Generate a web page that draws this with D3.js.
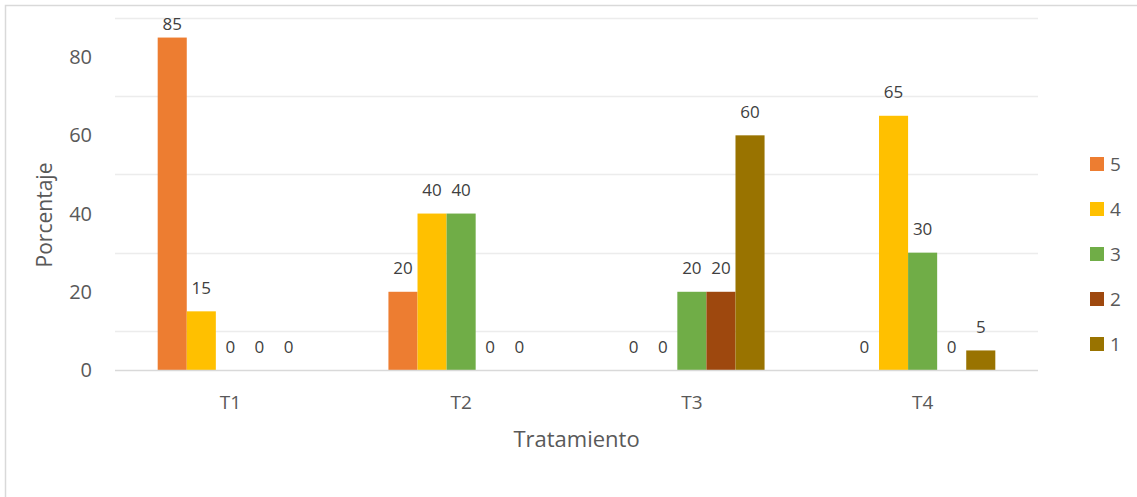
<!DOCTYPE html>
<html><head><meta charset="utf-8">
<script src="https://cdn.jsdelivr.net/npm/d3@7"></script>
<style>html,body{margin:0;padding:0;background:#fff;}svg{display:block;}</style>
</head><body>
<svg id="chart" width="1137" height="497"></svg>
<script>
const categories = ["T1", "T2", "T3", "T4"];
const seriesNames = ["5", "4", "3", "2", "1"];
const s5 = [85, 20, 0, 0];
const s4 = [15, 40, 0, 65];
const s3 = [0, 40, 20, 30];
const s2 = [0, 0, 20, 0];
const s1 = [0, 0, 60, 5];
const seriesValues = [s5, s4, s3, s2, s1];
const colors = ["#ED7D31", "#FFC000", "#70AD47", "#9E480E", "#997300"];
const yTickLabels = [0, 20, 40, 60, 80];
const gridValues = [10, 30, 50, 70, 90];
const xTitle = "Tratamiento";
const yTitle = "Porcentaje";

const font = "'Open Sans', 'Noto Sans', sans-serif";
const svg = d3.select("#chart");
const plot = {left: 115, right: 1038, top: 18, bottom: 370};

// chart border (only top/left visible in reference)
svg.append("rect").attr("x", 5.5).attr("y", 5.5).attr("width", 1200).attr("height", 600)
  .attr("fill", "none").attr("stroke", "#d9d9d9").attr("stroke-width", 1.5);

const y = d3.scaleLinear().domain([0, 90]).range([plot.bottom, plot.top]);
const x0 = d3.scaleBand().domain(categories).range([plot.left, plot.right])
  .paddingInner(0.37).paddingOuter(0.185);
const x1 = d3.scaleBand().domain(seriesNames).range([0, x0.bandwidth()]);

// gridlines
svg.append("g").selectAll("line").data(gridValues).join("line")
  .attr("x1", plot.left).attr("x2", plot.right)
  .attr("y1", d => Math.round(y(d)) + 0.5).attr("y2", d => Math.round(y(d)) + 0.5)
  .attr("stroke", "#ececec").attr("stroke-width", 1.5);

// y tick labels
svg.append("g").selectAll("text").data(yTickLabels).join("text")
  .attr("x", 92).attr("y", d => y(d)).attr("dy", "0.35em")
  .attr("text-anchor", "end").attr("font-family", font).attr("font-size", 20)
  .attr("fill", "#595959").text(d => d);

// bars
const rows = [];
categories.forEach((c, ci) => seriesNames.forEach((s, si) => rows.push({c, s, si, v: seriesValues[si][ci]})));
svg.append("g").selectAll("rect").data(rows).join("rect")
  .attr("x", d => x0(d.c) + x1(d.s)).attr("width", x1.bandwidth())
  .attr("y", d => y(d.v)).attr("height", d => y(0) - y(d.v))
  .attr("fill", d => colors[d.si]);

// x axis line
svg.append("line").attr("x1", plot.left).attr("x2", plot.right)
  .attr("y1", plot.bottom + 0.5).attr("y2", plot.bottom + 0.5)
  .attr("stroke", "#d9d9d9").attr("stroke-width", 1.5);

// data labels
svg.append("g").selectAll("text").data(rows).join("text")
  .attr("x", d => x0(d.c) + x1(d.s) + x1.bandwidth() / 2)
  .attr("y", d => Math.max(y(d.v) - 17.5, plot.top + 12))
  .attr("text-anchor", "middle").attr("font-family", font).attr("font-size", 17)
  .attr("fill", "#404040").text(d => d.v);

// category labels
svg.append("g").selectAll("text").data(categories).join("text")
  .attr("x", d => x0(d) + x0.bandwidth() / 2).attr("y", 409)
  .attr("text-anchor", "middle").attr("font-family", font).attr("font-size", 19)
  .attr("fill", "#595959").text(d => d);

// axis titles
svg.append("text").attr("x", (plot.left + plot.right) / 2).attr("y", 447)
  .attr("text-anchor", "middle").attr("font-family", font).attr("font-size", 22)
  .attr("fill", "#595959").text(xTitle);
svg.append("text").attr("transform", "translate(52,215) rotate(-90)")
  .attr("text-anchor", "middle").attr("font-family", font).attr("font-size", 21)
  .attr("fill", "#595959").text(yTitle);

// legend
const lg = svg.append("g").selectAll("g").data(seriesNames).join("g")
  .attr("transform", (d, i) => `translate(1090, ${164 + i * 45})`);
lg.append("rect").attr("x", 0).attr("y", -7).attr("width", 14).attr("height", 14)
  .attr("fill", (d, i) => colors[i]);
lg.append("text").attr("x", 20).attr("y", 0).attr("dy", "0.36em")
  .attr("font-family", font).attr("font-size", 19).attr("fill", "#595959").text(d => d);
</script>
</body></html>
